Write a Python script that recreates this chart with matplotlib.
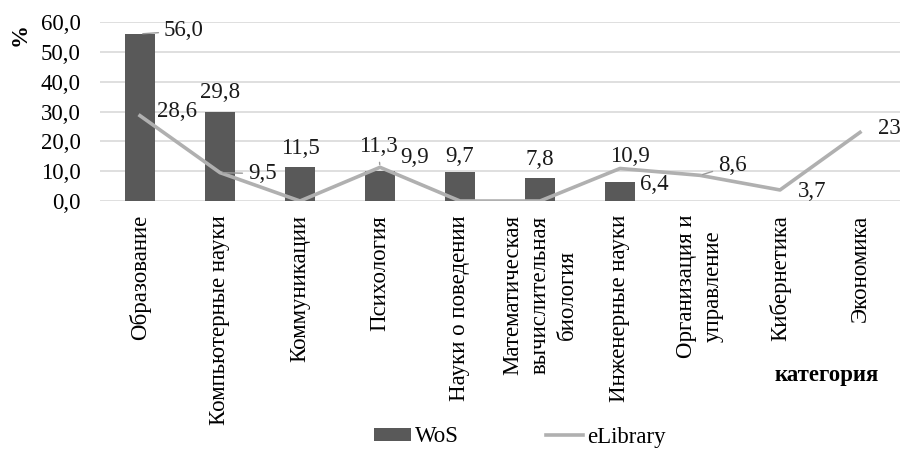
import matplotlib
matplotlib.use("Agg")
import matplotlib.pyplot as plt
import numpy as np

categories = ["Образование", "Компьютерные науки", "Коммуникации", "Психология",
              "Науки о поведении", "Математическая\nвычислительная\nбиология",
              "Инженерные науки", "Организация и\nуправление", "Кибернетика", "Экономика"]
wos = [56.0, 29.8, 11.5, 9.9, 9.7, 7.8, 6.4, 0, 0, 0]
elibrary = [28.6, 9.5, 0, 11.3, 0, 0, 10.9, 8.6, 3.7, 23]
wos_labels = ["56,0", "29,8", "11,5", "9,9", "9,7", "7,8", "6,4", None, None, None]
elib_labels = ["28,6", "9,5", None, "11,3", None, None, "10,9", "8,6", "3,7", "23"]
yticks = [0, 10, 20, 30, 40, 50, 60]

BAR = "#595959"
LINE = "#b0b0b0"
GRID = "#d9d9d9"

plt.rcParams["font.family"] = ["Liberation Serif", "DejaVu Serif"]
plt.rcParams["font.size"] = 16.5

fig = plt.figure(figsize=(9, 4.51), dpi=100)
ax = fig.add_axes([100 / 900, 250 / 451, 800 / 900, 179 / 451])

x = np.arange(len(categories))
bars = ax.bar(x, wos, width=0.38, color=BAR, zorder=2, label="WoS")
line, = ax.plot(x, elibrary, color=LINE, linewidth=2.6, zorder=3, label="eLibrary")

ax.set_xlim(-0.5, len(categories) - 0.5)
ax.set_ylim(0, 60)
ax.set_yticks(yticks)
ax.set_yticklabels([f"{v:.1f}".replace(".", ",") for v in yticks])
ax.yaxis.grid(True, color=GRID, linewidth=1.2, zorder=0)
ax.set_axisbelow(True)
for s in ax.spines.values():
    s.set_visible(False)
ax.tick_params(axis="y", length=0, pad=14)
ax.tick_params(axis="x", length=0, pad=10)
ax.set_xticks(x)
ax.set_xticklabels(categories, rotation=90, va="top", ha="center", linespacing=1.4)

# label offsets in pixels: (dx, dy, ha, leader)
wos_off = [(24, 3, "left", True), (0, 20, "center", False), (0, 18, "center", False),
           (20, 14, "left", False), (0, 16, "center", False), (0, 18, "center", False),
           (20, -3, "left", False), None, None, None]
elib_off = [(17, 4, "left", False), (28, -1, "left", True), None,
            (-2, 21, "center", True), None, None, (10, 12, "center", False),
            (18, 10, "left", True), (18, -2, "left", False), (18, 4, "left", False)]

def put(xi, yi, text, off):
    dx, dy, ha, leader = off
    props = None
    if leader:
        props = dict(arrowstyle="-", color="#9a9a9a", lw=1.0, shrinkA=2, shrinkB=2)
    ax.annotate(text, (xi, yi), xytext=(dx, dy), textcoords="offset pixels",
                ha=ha, va="center", color="#1a1a1a", arrowprops=props, zorder=4)

for i in range(len(categories)):
    if wos_labels[i] is not None:
        put(x[i], wos[i], wos_labels[i], wos_off[i])
    if elib_labels[i] is not None:
        put(x[i], elibrary[i], elib_labels[i], elib_off[i])

fig.text(20 / 900, 1 - 35 / 451, "%", rotation=90, ha="center", va="center",
         fontweight="bold")
fig.text(827 / 900, 1 - 376 / 451, "категория", ha="center", va="center",
         fontweight="bold")

fig.legend([bars, line], ["WoS", "eLibrary"], loc="center",
           bbox_to_anchor=(520 / 900, 14 / 451), ncol=2, frameon=False,
           handlelength=1.6, handleheight=0.5, handletextpad=0.2, columnspacing=3.8)

fig.savefig("out.png", dpi=100)
